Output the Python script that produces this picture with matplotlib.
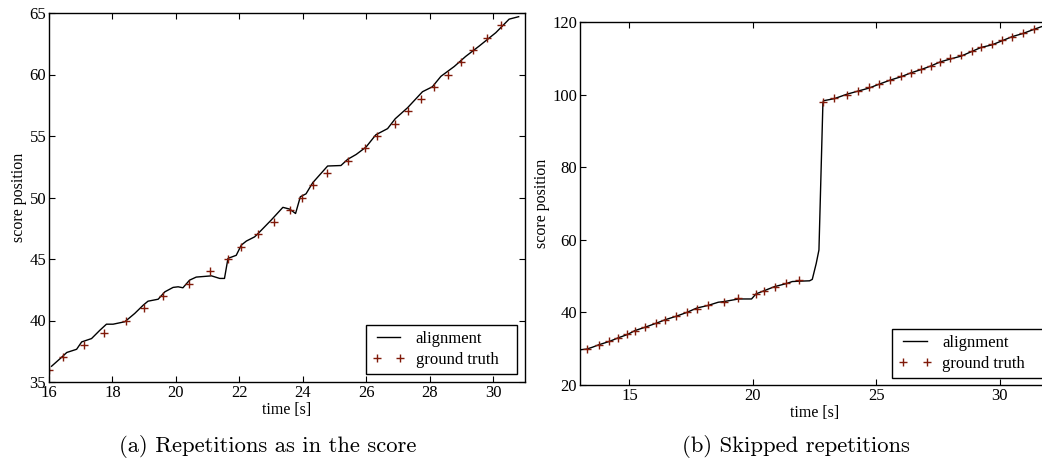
import numpy as np
import matplotlib
matplotlib.use("Agg")
import matplotlib.pyplot as plt

# (a) repetitions as in the score
align_a_t = [16.08, 16.35, 16.56, 16.87, 17.03, 17.34, 17.6, 17.81, 18.02, 18.39, 18.7, 18.97,
             19.12, 19.44, 19.65, 19.91, 20.07, 20.22, 20.43, 20.64, 21.12, 21.38, 21.53, 21.64,
             21.9, 22.06, 22.22, 22.48, 22.6, 23.0, 23.37, 23.58, 23.77, 23.92, 24.1, 24.31,
             24.78, 25.2, 25.41, 25.68, 25.99, 26.3, 26.67, 26.91, 27.3, 27.77, 28.08, 28.35,
             28.77, 29.13, 29.55, 30.08, 30.5, 30.8]
align_a_y = [36.28, 36.9, 37.4, 37.66, 38.26, 38.53, 39.2, 39.7, 39.7, 39.9, 40.57, 41.25,
             41.57, 41.73, 42.33, 42.69, 42.74, 42.66, 43.28, 43.53, 43.63, 43.42, 43.42, 45.05,
             45.3, 46.13, 46.46, 46.8, 47.1, 48.16, 49.2, 49.06, 48.7, 50.06, 50.3, 51.2,
             52.56, 52.6, 53.1, 53.5, 54.1, 55.1, 55.6, 56.4, 57.3, 58.6, 59.0, 59.85,
             60.65, 61.47, 62.3, 63.4, 64.5, 64.7]
truth_a_t = [16.0, 16.45, 17.1, 17.74, 18.43, 18.99, 19.6, 20.42, 21.06, 21.65, 22.04, 22.6,
             23.09, 23.58, 23.96, 24.33, 24.75, 25.41, 25.96, 26.34, 26.9, 27.32, 27.73, 28.13,
             28.57, 28.97, 29.37, 29.81, 30.25]
truth_a_y = [36, 37, 38, 39, 40, 41, 42, 43, 44, 45, 46, 47,
             48, 49, 50, 51, 52, 53, 54, 55, 56, 57, 58, 59,
             60, 61, 62, 63, 64]

# (b) skipped repetitions
align_b_t = [13.0, 13.27, 13.5, 13.77, 14.19, 14.55, 14.92, 15.23, 15.63, 16.08, 16.46, 16.88,
             17.33, 17.73, 18.18, 18.6, 18.85, 19.42, 19.95, 20.13, 20.47, 20.88, 21.34, 21.6,
             21.88, 22.3, 22.41, 22.57, 22.68, 22.84, 22.86, 23.31, 23.81, 24.28, 24.71, 25.13,
             25.57, 26.0, 26.41, 26.82, 27.22, 27.59, 28.0, 28.44, 28.88, 29.25, 29.69, 30.09,
             30.52, 30.93, 31.4, 31.73, 32.0]
align_b_y = [29.7, 29.9, 30.4, 31.1, 32.0, 33.0, 33.9, 35.0, 35.9, 37.0, 38.0, 38.9,
             40.0, 41.2, 41.9, 42.8, 43.0, 43.7, 43.7, 45.1, 46.0, 47.1, 47.9, 48.5,
             48.6, 48.7, 49.1, 53.5, 57.2, 97.5, 98.3, 98.9, 100.1, 101.0, 101.8, 102.9,
             104.0, 104.9, 106.0, 106.9, 107.9, 109.0, 109.8, 110.6, 111.9, 113.0, 113.7, 114.8,
             116.0, 116.8, 118.0, 118.8, 119.2]
truth_b_t = [13.27, 13.77, 14.19, 14.55, 14.92, 15.23, 15.63, 16.08, 16.46, 16.88,
             17.33, 17.73, 18.18, 18.85, 19.42, 20.13, 20.47, 20.88, 21.34, 21.88,
             22.86, 23.31, 23.81, 24.28, 24.71, 25.13, 25.57, 26.0, 26.41, 26.82,
             27.22, 27.59, 28.0, 28.44, 28.88, 29.25, 29.69, 30.09, 30.52, 30.93, 31.4]
truth_b_y = [30, 31, 32, 33, 34, 35, 36, 37, 38, 39,
             40, 41, 42, 43, 44, 45, 46, 47, 48, 49,
             98, 99, 100, 101, 102, 103, 104, 105, 106, 107,
             108, 109, 110, 111, 112, 113, 114, 115, 116, 117, 118]

plt.rcParams['font.family'] = ['Liberation Serif', 'DejaVu Serif']
plt.rcParams['font.size'] = 12
truth_color = '#801a0a'

fig = plt.figure(figsize=(10.42, 4.63), dpi=100)
W, H = 1042.0, 463.0

def make_axes(l, t, r, b):
    return fig.add_axes([l / W, 1 - b / H, (r - l) / W, (b - t) / H])

def style(ax, legbox):
    ax.tick_params(direction='in', top=True, right=True, length=4, width=0.8,
                   labelsize=12, pad=2)
    for s in ax.spines.values():
        s.set_linewidth(1.0)
        s.set_color('black')
    ax.set_xlabel('time [s]', fontsize=11.5, labelpad=1)
    ax.set_ylabel('score position', fontsize=11.5, labelpad=2)
    leg = ax.legend(loc='lower left', bbox_to_anchor=legbox, mode='expand',
                    numpoints=2, fancybox=False, handlelength=2.0,
                    handletextpad=0.64, labelspacing=0.3, borderpad=0.35,
                    fontsize=12, borderaxespad=0, framealpha=1)
    leg.get_frame().set_edgecolor('black')
    leg.get_frame().set_linewidth(1.0)

ax1 = make_axes(49, 13, 525, 382)
ax1.plot(align_a_t, align_a_y, color='black', lw=1.0, label='alignment')
ax1.plot(truth_a_t, truth_a_y, ls='none', marker='+', ms=6, mew=1.0, color=truth_color,
         label='ground truth')
ax1.set_xlim(16, 31)
ax1.set_ylim(35, 65)
ax1.set_xticks([16, 18, 20, 22, 24, 26, 28, 30])
ax1.set_yticks([35, 40, 45, 50, 55, 60, 65])
style(ax1, (0.666, 0.0217, 0.317, 0.1))

ax2 = make_axes(580, 22, 1049, 385)
ax2.plot(align_b_t, align_b_y, color='black', lw=1.0, label='alignment')
ax2.plot(truth_b_t, truth_b_y, ls='none', marker='+', ms=6, mew=1.0, color=truth_color,
         label='ground truth')
ax2.set_xlim(13, 32)
ax2.set_ylim(20, 120)
ax2.set_xticks([15, 20, 25, 30])
ax2.set_yticks([20, 40, 60, 80, 100, 120])
style(ax2, (0.666, 0.020, 0.322, 0.1))

fig.text(268 / W, 1 - 447 / H, '(a) Repetitions as in the score', family='cmr10',
         fontsize=16.3, ha='center', va='center')
fig.text(796 / W, 1 - 447 / H, '(b) Skipped repetitions', family='cmr10',
         fontsize=16.3, ha='center', va='center')

fig.savefig('out.png', dpi=100)
